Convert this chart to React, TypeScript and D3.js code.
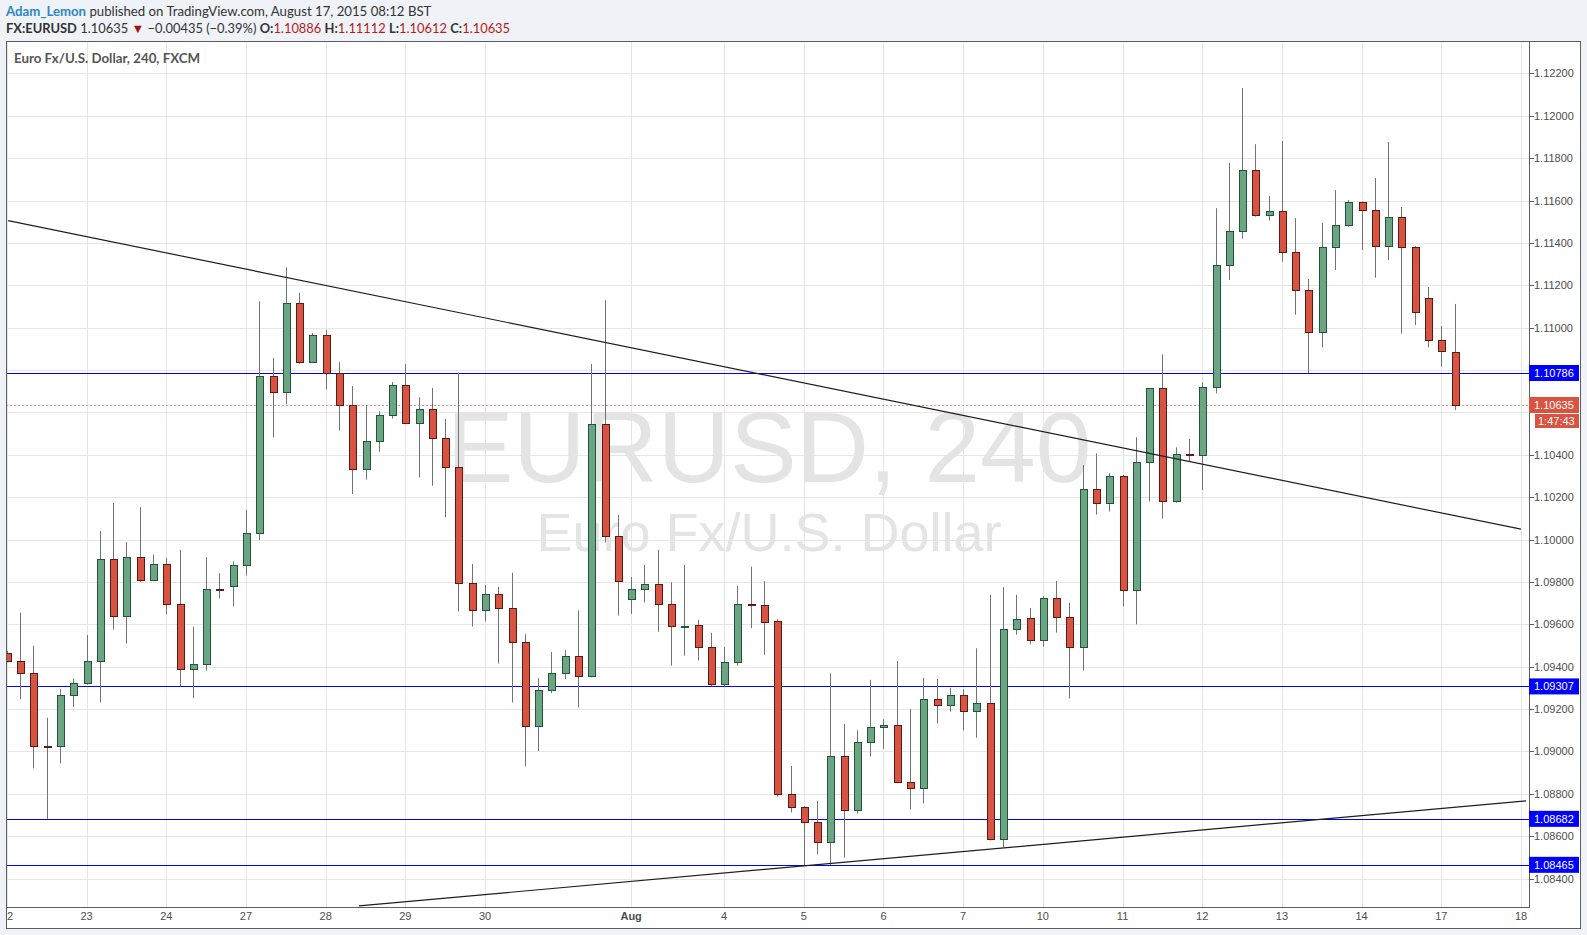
import React from 'react';
import * as d3 from 'd3';

const W = 1587;
const H = 935;

// 4h candles, index 0 = Jul 22 02:00 ... index 109 = Aug 17 06:00
const opens = [
  1.09467, 1.09429, 1.09370, 1.09028, 1.09024, 1.09265, 1.09322, 1.09425, 1.09907, 1.09638,
  1.09917, 1.09808, 1.09884, 1.09695, 1.09388, 1.09412, 1.09766, 1.09782, 1.09879, 1.10030,
  1.10771, 1.10696, 1.11115, 1.10837, 1.10964, 1.10785, 1.10633, 1.10332, 1.10463, 1.10586,
  1.10728, 1.10549, 1.10615, 1.10478, 1.10342, 1.09794, 1.09666, 1.09742, 1.09676, 1.09516,
  1.09119, 1.09289, 1.09370, 1.09449, 1.09354, 1.10544, 1.10015, 1.09718, 1.09766, 1.09789,
  1.09695, 1.09590, 1.09596, 1.09493, 1.09318, 1.09422, 1.09695, 1.09690, 1.09614, 1.08798,
  1.08737, 1.08666, 1.08572, 1.08977, 1.08723, 1.09043, 1.09114, 1.09124, 1.08855, 1.08826,
  1.09246, 1.09218, 1.09265, 1.09190, 1.09227, 1.08586, 1.09577, 1.09629, 1.09525, 1.09723,
  1.09633, 1.09492, 1.10237, 1.10171, 1.10299, 1.09761, 1.10365, 1.10714, 1.10181, 1.10402,
  1.10398, 1.10718, 1.11294, 1.11454, 1.11742, 1.11530, 1.11549, 1.11355, 1.11176, 1.10978,
  1.11379, 1.11483, 1.11591, 1.11553, 1.11384, 1.11520, 1.11379, 1.11138, 1.10940, 1.10886,
];
const highs = [
  1.09475, 1.09656, 1.09499, 1.09159, 1.09294, 1.09344, 1.09550, 1.10040, 1.10173, 1.09988,
  1.10153, 1.09929, 1.09914, 1.09951, 1.09589, 1.09917, 1.09841, 1.09897, 1.10140, 1.11125,
  1.10857, 1.11285, 1.11164, 1.10975, 1.10989, 1.10837, 1.10724, 1.10635, 1.10605, 1.10743,
  1.10829, 1.10672, 1.10716, 1.10569, 1.10787, 1.09885, 1.09786, 1.09776, 1.09843, 1.09553,
  1.09346, 1.09469, 1.09478, 1.09666, 1.10829, 1.11129, 1.10116, 1.09823, 1.09880, 1.09951,
  1.09799, 1.09880, 1.09621, 1.09560, 1.09493, 1.09781, 1.09872, 1.09804, 1.09624, 1.08932,
  1.08743, 1.08767, 1.09369, 1.09130, 1.09100, 1.09338, 1.09152, 1.09427, 1.09201, 1.09347,
  1.09342, 1.09300, 1.09293, 1.09487, 1.09739, 1.09775, 1.09739, 1.09677, 1.09734, 1.09805,
  1.09701, 1.10352, 1.10407, 1.10313, 1.10305, 1.10483, 1.10714, 1.10874, 1.10435, 1.10475,
  1.10742, 1.11564, 1.11777, 1.12131, 1.11866, 1.11621, 1.11881, 1.11517, 1.11230, 1.11494,
  1.11649, 1.11602, 1.11595, 1.11706, 1.11876, 1.11569, 1.11385, 1.11192, 1.11008, 1.11112,
];
const lows = [
  1.09420, 1.09247, 1.08920, 1.08682, 1.08943, 1.09210, 1.09315, 1.09231, 1.09575, 1.09509,
  1.09799, 1.09805, 1.09648, 1.09307, 1.09252, 1.09381, 1.09723, 1.09685, 1.09830, 1.09998,
  1.10482, 1.10638, 1.10830, 1.10835, 1.10709, 1.10514, 1.10215, 1.10283, 1.10414, 1.10571,
  1.10545, 1.10293, 1.10254, 1.10106, 1.09660, 1.09589, 1.09614, 1.09415, 1.09231, 1.08930,
  1.09001, 1.09275, 1.09341, 1.09208, 1.09350, 1.09986, 1.09641, 1.09649, 1.09703, 1.09565,
  1.09405, 1.09452, 1.09429, 1.09307, 1.09307, 1.09405, 1.09582, 1.09456, 1.08787, 1.08712,
  1.08465, 1.08515, 1.08465, 1.08499, 1.08707, 1.08976, 1.09012, 1.08850, 1.08726, 1.08754,
  1.09132, 1.09188, 1.09099, 1.09065, 1.08580, 1.08547, 1.09551, 1.09506, 1.09495, 1.09561,
  1.09250, 1.09382, 1.10118, 1.10132, 1.09684, 1.09600, 1.10179, 1.10099, 1.10174, 1.10368,
  1.10234, 1.10690, 1.11225, 1.11420, 1.11524, 1.11505, 1.11311, 1.11061, 1.10786, 1.10906,
  1.11272, 1.11476, 1.11366, 1.11236, 1.11319, 1.10972, 1.11012, 1.10906, 1.10816, 1.10612,
];
const closes = [
  1.09429, 1.09370, 1.09028, 1.09024, 1.09265, 1.09322, 1.09425, 1.09907, 1.09638, 1.09917,
  1.09808, 1.09884, 1.09695, 1.09388, 1.09412, 1.09766, 1.09760, 1.09879, 1.10030, 1.10771,
  1.10696, 1.11115, 1.10837, 1.10964, 1.10785, 1.10633, 1.10332, 1.10463, 1.10586, 1.10728,
  1.10549, 1.10615, 1.10478, 1.10342, 1.09794, 1.09666, 1.09742, 1.09676, 1.09516, 1.09119,
  1.09289, 1.09370, 1.09449, 1.09354, 1.10544, 1.10015, 1.09806, 1.09766, 1.09789, 1.09695,
  1.09590, 1.09594, 1.09493, 1.09318, 1.09422, 1.09695, 1.09690, 1.09612, 1.08798, 1.08737,
  1.08666, 1.08572, 1.08977, 1.08723, 1.09043, 1.09114, 1.09124, 1.08855, 1.08826, 1.09246,
  1.09218, 1.09265, 1.09190, 1.09227, 1.08586, 1.09577, 1.09624, 1.09525, 1.09723, 1.09633,
  1.09492, 1.10237, 1.10171, 1.10299, 1.09761, 1.10365, 1.10714, 1.10181, 1.10402, 1.10398,
  1.10718, 1.11294, 1.11454, 1.11742, 1.11530, 1.11549, 1.11355, 1.11176, 1.10978, 1.11379,
  1.11483, 1.11591, 1.11553, 1.11384, 1.11520, 1.11379, 1.11072, 1.10940, 1.10888, 1.10635,
];

const dayTickIndex = [0, 6, 12, 18, 24, 30, 36, 47, 54, 60, 66, 72, 78, 84, 90, 96, 102, 108, 114];
const dayTickLabels = ['22', '23', '24', '27', '28', '29', '30', 'Aug', '4', '5', '6', '7', '10', '11', '12', '13', '14', '17', '18'];

const priceTicks = [
  1.084, 1.086, 1.088, 1.090, 1.092, 1.094, 1.096, 1.098, 1.100, 1.102,
  1.104, 1.106, 1.108, 1.110, 1.112, 1.114, 1.116, 1.118, 1.120, 1.122,
];

const levelPrices = [1.10786, 1.09307, 1.08682, 1.08465];
const lastPrice = 1.10635;
const countdown = '1:47:43';

// trend lines: start/end candle index and price
const trendStartIdx = [0.09, 26.51];
const trendStartPrice = [1.11505, 1.08271];
const trendEndIdx = [114, 114.39];
const trendEndPrice = [1.10049, 1.08767];

const UP_FILL = '#6ba583';
const UP_STROKE = '#225437';
const DN_FILL = '#d75442';
const DN_STROKE = '#5b1a13';
const WICK = '#737375';
const GRID = '#e6e6e6';
const AXIS_TEXT = '#4d4d4d';
const LEVEL = '#0000ff';
const LAST = '#da5341';

export default function App() {
  const L = 6, R = 1529, T = 42, B = 907, FR = 1580, FB = 928;
  const x = d3.scaleLinear().domain([0, 114]).range([6.9, 1521]);
  const y = d3.scaleLinear().domain([1.08266, 1.12348]).range([B, T]);
  const fmt = d3.format('.5f');

  const boxes = [...levelPrices, lastPrice].map((p) => y(p));
  const hidden = (p: number) => boxes.some((by) => Math.abs(by - y(p)) < 12) || Math.abs(y(lastPrice) + 16 - y(p)) < 12;

  const axisFont = '"Liberation Sans", Arial, sans-serif';
  const uiFont = 'Lato, "Noto Sans", sans-serif';

  return (
    <svg width={W} height={H} style={{ position: 'absolute', left: 0, top: 0 }} xmlns="http://www.w3.org/2000/svg">
      <defs>
        <clipPath id="plot">
          <rect x={L + 1} y={T + 1} width={R - L - 1} height={B - T - 1} />
        </clipPath>
        <clipPath id="xaxis">
          <rect x={L + 1} y={B} width={R - L} height={FB - B} />
        </clipPath>
      </defs>
      <rect x={0} y={0} width={W} height={H} fill="#eff2f6" />

      {/* header */}
      <text x={6} y={16} fontFamily={uiFont} fontSize={13.2} fill="#333">
        <tspan fill="#2d86c9" fontWeight="bold">Adam_Lemon</tspan>
        <tspan> published on TradingView.com, August 17, 2015 08:12 BST</tspan>
      </text>
      <text x={6} y={33} fontFamily={uiFont} fontSize={12.9} fill="#333">
        <tspan fontWeight="bold">FX:EURUSD</tspan>
        <tspan> 1.10635 </tspan>
        <tspan fill="#a30f0f">▼</tspan>
        <tspan> −0.00435 (−0.39%) </tspan>
        <tspan fontWeight="bold">O:</tspan>
        <tspan fill="#b71c1c">1.10886 </tspan>
        <tspan fontWeight="bold">H:</tspan>
        <tspan fill="#b71c1c">1.11112 </tspan>
        <tspan fontWeight="bold">L:</tspan>
        <tspan fill="#b71c1c">1.10612 </tspan>
        <tspan fontWeight="bold">C:</tspan>
        <tspan fill="#b71c1c">1.10635</tspan>
      </text>

      {/* chart frame */}
      <rect x={L + 0.5} y={T - 0.5} width={FR - L} height={FB - T + 1} fill="#ffffff" stroke="#5d5d5d" />

      {/* grid */}
      {priceTicks.map((p) => (
        <line key={'hg' + p} x1={L + 1} x2={R} y1={Math.round(y(p)) + 0.5} y2={Math.round(y(p)) + 0.5} stroke={GRID} />
      ))}
      {dayTickIndex.map((i) => (
        <line key={'vg' + i} x1={Math.round(x(i)) + 0.5} x2={Math.round(x(i)) + 0.5} y1={T} y2={B} stroke={GRID} />
      ))}

      {/* watermark */}
      <text x={769} y={482} textAnchor="middle" fontFamily={axisFont} fontSize={100} fill="#e4e4e4">EURUSD, 240</text>
      <text x={769} y={551} textAnchor="middle" fontFamily={axisFont} fontSize={54} fill="#e4e4e4">Euro Fx/U.S. Dollar</text>

      {/* title */}
      <text x={14} y={63} fontFamily={uiFont} fontSize={13.3} fontWeight="bold" fill="#555">Euro Fx/U.S. Dollar, 240, FXCM</text>

      <g clipPath="url(#plot)">
        {/* horizontal levels */}
        {levelPrices.map((p) => (
          <line key={'lv' + p} x1={L} x2={R} y1={Math.round(y(p)) + 0.5} y2={Math.round(y(p)) + 0.5} stroke={LEVEL} strokeWidth={1} />
        ))}
        <line x1={L} x2={R} y1={Math.round(y(lastPrice)) + 0.5} y2={Math.round(y(lastPrice)) + 0.5} stroke="#e59a8c" strokeDasharray="2,2" />

        {/* candles */}
        {opens.map((o, i) => {
          const c = closes[i];
          const up = c >= o;
          const cx = Math.round(x(i));
          const yt = Math.round(y(Math.max(o, c)));
          const yb = Math.round(y(Math.min(o, c)));
          const bh = Math.max(1, yb - yt);
          return (
            <g key={'c' + i}>
              <line x1={cx + 0.5} x2={cx + 0.5} y1={y(highs[i])} y2={y(lows[i])} stroke={WICK} />
              <rect x={cx - 2.5} y={yt + 0.5} width={7} height={bh} fill={up ? UP_FILL : DN_FILL} stroke={up ? UP_STROKE : DN_STROKE} />
            </g>
          );
        })}

        {/* trend lines */}
        {trendStartIdx.map((si, k) => (
          <line key={'tl' + k} x1={x(si)} y1={y(trendStartPrice[k])} x2={x(trendEndIdx[k])} y2={y(trendEndPrice[k])} stroke="#1e1e1e" strokeWidth={1.2} />
        ))}
      </g>

      {/* axes lines */}
      <line x1={R + 0.5} x2={R + 0.5} y1={T} y2={B + 1} stroke="#5d5d5d" />
      <line x1={L} x2={R + 1} y1={B + 0.5} y2={B + 0.5} stroke="#5d5d5d" />

      {/* price axis */}
      {priceTicks.map((p) => (
        <g key={'pt' + p}>
          <line x1={R + 1} x2={R + 5} y1={Math.round(y(p)) + 0.5} y2={Math.round(y(p)) + 0.5} stroke="#5d5d5d" />
          {!hidden(p) && (
            <text x={1534} y={y(p) + 4} fontFamily={axisFont} fontSize={11} fill={AXIS_TEXT}>{fmt(p)}</text>
          )}
        </g>
      ))}
      {levelPrices.map((p) => (
        <g key={'lb' + p}>
          <rect x={R} y={y(p) - 8} width={50} height={16} fill={LEVEL} />
          <text x={1534} y={y(p) + 4} fontFamily={axisFont} fontSize={11} fill="#ffffff">{fmt(p)}</text>
        </g>
      ))}
      <rect x={R} y={y(lastPrice) - 8} width={50} height={16} fill={LAST} />
      <text x={1534} y={y(lastPrice) + 4} fontFamily={axisFont} fontSize={11} fill="#ffffff">{fmt(lastPrice)}</text>
      <rect x={1535} y={y(lastPrice) + 9} width={44} height={14} fill={LAST} />
      <text x={1538} y={y(lastPrice) + 20} fontFamily={axisFont} fontSize={11} fill="#ffffff">{countdown}</text>

      {/* time axis */}
      <g clipPath="url(#xaxis)">
        {dayTickIndex.map((i, k) => (
          <text key={'xt' + i} x={x(i)} y={920} textAnchor="middle" fontFamily={axisFont} fontSize={11}
            fontWeight={dayTickLabels[k] === 'Aug' ? 'bold' : 'normal'} fill={AXIS_TEXT}>{dayTickLabels[k]}</text>
        ))}
      </g>
    </svg>
  );
}
